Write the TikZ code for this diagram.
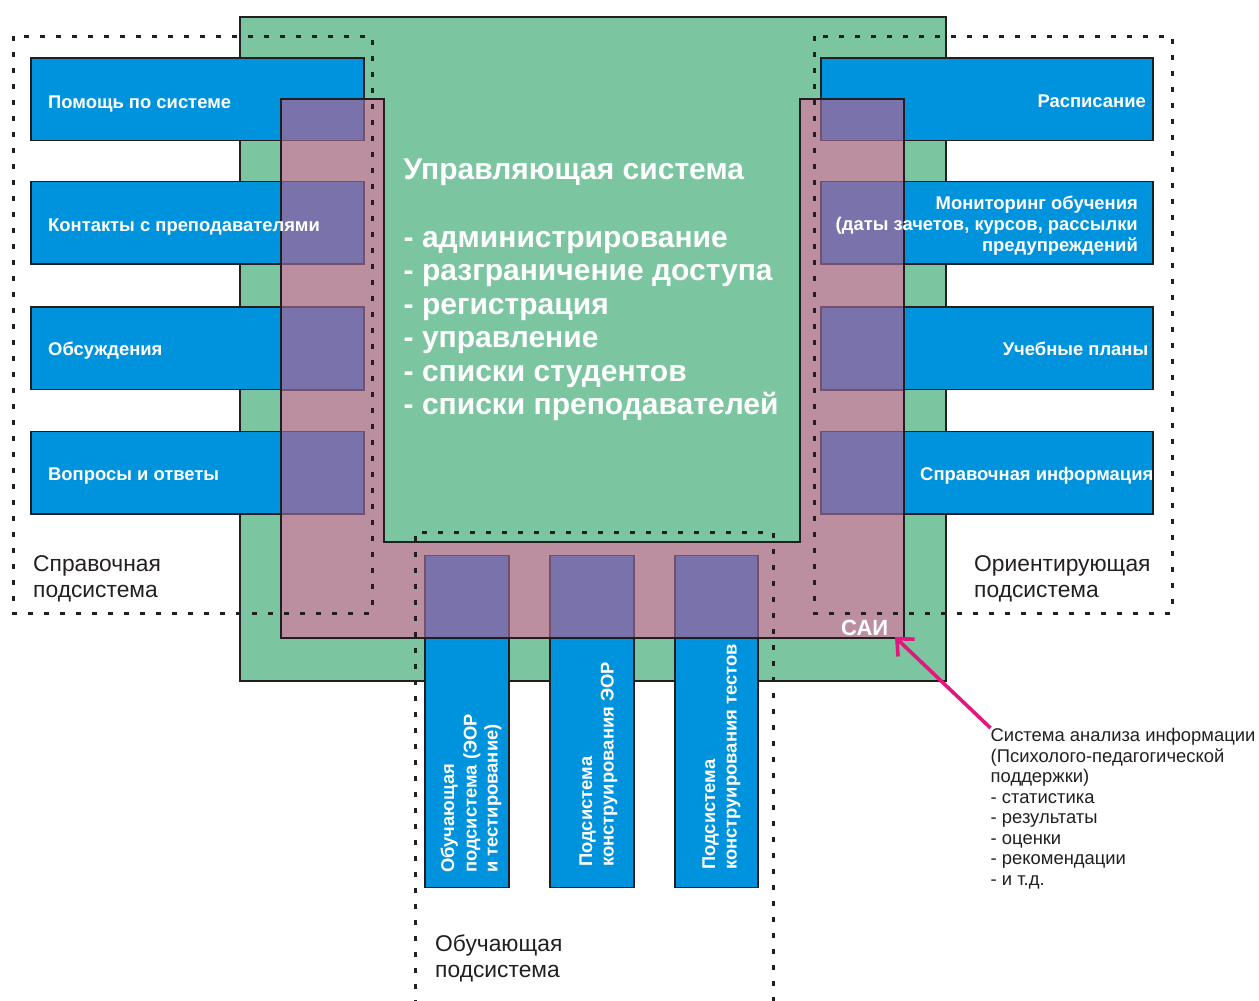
\documentclass[tikz,border=0pt]{standalone}
\usepackage{fontspec}
\setmainfont{Liberation Sans}
\usetikzlibrary{arrows.meta}
\definecolor{coregreen}{HTML}{7BC5A0}
\definecolor{modblue}{HTML}{0093DD}
\definecolor{saipink}{HTML}{BC8FA0}
\definecolor{mixviolet}{HTML}{7A72AA}
\definecolor{mixedge}{HTML}{74506A}
\definecolor{ink}{HTML}{231F20}
\definecolor{pointer}{HTML}{E2187F}
\tikzset{
  modbox/.style={draw=ink, line width=1.6pt, fill=modblue, inner sep=0pt, outer sep=0pt, anchor=north west},
  sidebox/.style={modbox, minimum width=333pt, minimum height=82.5pt},
  rsidebox/.style={modbox, minimum width=332pt, minimum height=82.5pt},
  lowbox/.style={modbox, minimum width=84pt, minimum height=332pt},
  overlap/.style={fill=mixviolet, draw=mixedge, line width=1.6pt},
  zone/.style={draw=ink, line width=3pt, dash pattern=on 5pt off 11pt},
  boxlabel/.style={text=white, font=\bfseries\fontsize{18.4}{21}\selectfont, inner sep=0pt},
  vlabel/.style={boxlabel, rotate=90, anchor=base west},
  zonelabel/.style={text=ink, font=\fontsize{22.8}{26}\selectfont, align=left, inner sep=0pt, anchor=north west},
}
\begin{document}
\begin{tikzpicture}[x=1pt,y=-1pt]
\useasboundingbox (0,0) rectangle (1259,1001);

% control system core
\node[draw=ink, line width=1.6pt, fill=coregreen, minimum width=706pt, minimum height=664pt,
      inner sep=0pt, anchor=north west] (core) at (239,16) {};

% left modules
\node[sidebox] (help)     at (31,58)    {};
\node[sidebox] (contacts) at (31,181.5) {};
\node[sidebox] (forum)    at (31,307)   {};
\node[sidebox] (faq)      at (31,431.5) {};
% right modules
\node[rsidebox] (sched)   at (821,58)    {};
\node[rsidebox] (monitor) at (821,181.5) {};
\node[rsidebox] (plans)   at (821,307)   {};
\node[rsidebox] (refinfo) at (821,431.5) {};
% lower modules
\node[lowbox] (learn)   at (425,555.5) {};
\node[lowbox] (eorcon)  at (550,555.5) {};
\node[lowbox, minimum width=83pt] (testcon) at (675,555.5) {};

% information analysis band
\fill[saipink] (281,99) -- (384,99) -- (384,542) -- (800,542) -- (800,99)
  -- (904,99) -- (904,638) -- (281,638) -- cycle;

% module parts lying inside the band
\path[overlap] (281,99) rectangle (364,140.5);
\path[overlap] (281,181.5) rectangle (364,264);
\path[overlap] (281,307) rectangle (364,390);
\path[overlap] (281,431.5) rectangle (364,514);
\path[overlap] (821,99) rectangle (904,140.5);
\path[overlap] (821,181.5) rectangle (904,264);
\path[overlap] (821,307) rectangle (904,390);
\path[overlap] (821,431.5) rectangle (904,514);
\path[overlap] (425,555.5) rectangle (509,638);
\path[overlap] (550,555.5) rectangle (634,638);
\path[overlap] (675,555.5) rectangle (758,638);

\draw[ink, line width=1.4pt] (281,99) -- (384,99) -- (384,542) -- (800,542) -- (800,99)
  -- (904,99) -- (904,638) -- (281,638) -- cycle;

% subsystem boundaries
\draw[zone] (13,36) rectangle (372,613);
\draw[zone] (814,36) rectangle (1172,613);
\draw[zone] (415,1005) -- (415,532) -- (773,532) -- (773,1005);

% core text
\node[text=white, font=\bfseries\fontsize{30}{33.5}\selectfont, align=left, inner sep=0pt,
      anchor=north west] (coretext) at (403.5,158.5)
  {Управляющая система\\[34.5pt]- администрирование\\- разграничение доступа\\- регистрация\\- управление\\- списки студентов\\- списки преподавателей};

% module labels
\node[boxlabel, anchor=base west] (helpT)     at (48,108)  {Помощь по системе};
\node[boxlabel, anchor=base west] (contactsT) at (48,231)  {Контакты с преподавателями};
\node[boxlabel, anchor=base west] (forumT)    at (48,355)  {Обсуждения};
\node[boxlabel, anchor=base west] (faqT)      at (48,480.5){Вопросы и ответы};

\node[boxlabel, anchor=base east] (schedT)   at (1146,107)   {Расписание};
\node[boxlabel, anchor=north east, align=right] (monitorT) at (1138,195.5)
  {Мониторинг обучения\\(даты зачетов, курсов, рассылки\\предупреждений};
\node[boxlabel, anchor=base east] (plansT)   at (1148.5,355) {Учебные планы};
\node[boxlabel, anchor=base east] (refinfoT) at (1153.5,480.5) {Справочная информация};

\node[vlabel] (learnA) at (454,873)   {Обучающая};
\node[vlabel] (learnB) at (476.5,873) {подсистема (ЭОР};
\node[vlabel] (learnC) at (497.5,873) {и тестирование)};
\node[vlabel] (eorA)   at (592,867)   {Подсистема};
\node[vlabel] (eorB)   at (613.5,867) {конструирования ЭОР};
\node[vlabel] (testA)  at (715,870)   {Подсистема};
\node[vlabel] (testB)  at (736.5,870) {конструирования тестов};

% subsystem names
\node[zonelabel] (refzone)    at (33,555.5)  {Справочная\\подсистема};
\node[zonelabel] (orientzone) at (974,555.5) {Ориентирующая\\подсистема};
\node[zonelabel] (learnzone)  at (435,934.5) {Обучающая\\подсистема};

% analysis system
\node[text=white, font=\bfseries\fontsize{22}{26}\selectfont, inner sep=0pt, anchor=base west]
  (sai) at (841,635) {САИ};
\coordinate (saitip) at (895,637);
\node[text=ink, font=\fontsize{18.4}{20.5}\selectfont, align=left, inner sep=0pt, anchor=north west]
  (info) at (990.5,728)
  {Система анализа информации\\(Психолого-педагогической\\поддержки)\\- статистика\\- результаты\\- оценки\\- рекомендации\\- и т.д.};
\draw[pointer, line width=3.6pt, -{Straight Barb[length=13pt, width=24pt, line width=3.6pt]}]
  (info.north west) -- (saitip);
\end{tikzpicture}
\end{document}
